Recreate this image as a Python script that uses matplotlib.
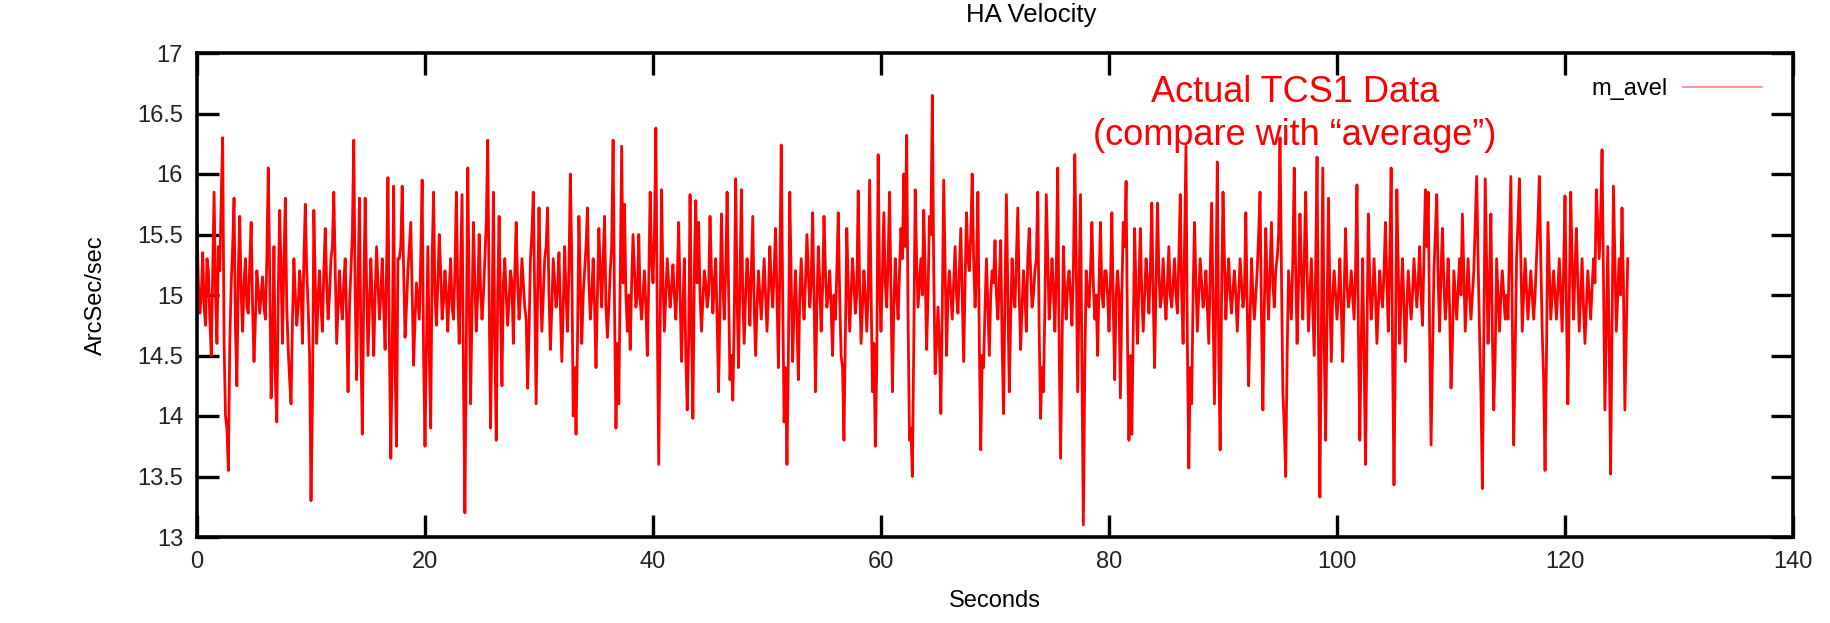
import matplotlib
matplotlib.use("Agg")
import matplotlib.pyplot as plt
import numpy as np

plt.rcParams['font.family'] = ['Liberation Sans', 'DejaVu Sans']

# HA velocity, main samples every 0.25 s
m_avel = [
    15.6, 14.85, 15.35, 14.75,  15.2, 14.5, 15.85, 14.6,
    15.2, 16.3, 14.0, 13.55,    15.1, 15.8, 14.25, 15.65,
    14.7, 15.3, 14.85, 15.6,    14.45, 15.2, 14.85, 15.15,
    14.8, 16.05, 14.15, 15.4,   13.95, 15.7, 14.6, 15.8,
    14.55, 14.1, 15.3, 14.75,   15.2, 14.6, 15.75, 14.9,
    13.3, 15.7, 14.6, 15.2,     14.7, 15.55, 14.8, 15.3,
    15.85, 14.6, 15.2, 14.8,    15.3, 14.2, 15.2, 16.28,
    14.3, 15.8, 13.85, 15.8,    14.5, 15.3, 14.5, 15.4,
    14.8, 15.3, 14.55, 15.97,   13.65, 15.9, 13.75, 15.3,
    15.9, 14.65, 15.2, 15.6,    14.42, 15.1, 14.8, 15.95,
    13.75, 15.4, 13.9, 15.85,   14.75, 15.5, 14.8, 15.2,
    14.7, 15.3, 14.8, 15.85,    14.6, 15.83, 13.2, 16.05,
    14.1, 15.6, 14.7, 15.5,     14.8, 15.3, 16.28, 13.9,
    15.85, 13.8, 15.65, 14.25,  15.3, 14.75, 15.2, 14.6,
    15.6, 14.8, 15.3, 14.9,     14.23, 15.3, 15.85, 14.1,
    15.72, 14.7, 15.3, 15.72,   14.55, 15.3, 14.9, 15.35,
    14.45, 15.4, 14.7, 16.0,    14.0, 13.85, 15.65, 14.6,
    15.2, 15.72, 14.8, 15.3,    14.4, 15.55, 14.9, 15.65,
    14.65, 15.2, 16.28, 13.9,   14.1, 16.23, 15.75, 14.7,
    14.55, 15.5, 14.9, 15.5,    14.8, 15.2, 14.5, 15.85,
    15.1, 16.38, 13.6, 15.87,   14.7, 15.3, 14.9, 15.25,
    14.8, 15.6, 14.45, 15.3,    14.05, 15.83, 13.98, 15.78,
    15.6, 14.7, 15.2, 14.9,     15.65, 14.85, 15.3, 14.2,
    15.67, 14.8, 15.85, 14.3,   14.13, 15.96, 14.4, 15.87,
    14.6, 15.3, 14.75, 15.65,   14.5, 15.2, 14.8, 15.3,
    14.7, 15.4, 14.9, 15.55,    14.4, 16.24, 13.95, 13.6,
    15.85, 14.45, 15.2, 14.3,   15.3, 14.8, 15.5, 14.9,
    15.68, 14.2, 15.4, 14.7,    15.65, 14.9, 15.2, 14.5,
    14.8, 15.68, 14.5, 13.8,    15.55, 14.7, 15.3, 14.85,
    15.86, 14.6, 15.2, 14.7,    15.95, 14.2, 13.75, 16.16,
    14.7, 15.68, 14.9, 15.85,   14.2, 15.3, 14.8, 15.55,
    16.0, 16.32, 13.8, 13.5,    15.87, 14.9, 15.3, 15.7,
    14.55, 15.65, 16.65, 14.35, 14.9, 14.02, 15.95, 14.5,
    15.2, 14.8, 15.4, 14.85,    15.55, 14.45, 15.68, 15.2,
    16.0, 14.9, 15.85, 13.72,   14.4, 15.3, 14.5, 15.2,
    15.45, 14.8, 15.45, 14.02,  15.83, 14.2, 15.3, 14.9,
    15.72, 14.55, 15.2, 14.7,   15.55, 14.9, 15.2, 15.85,
    13.98, 14.2, 15.83, 14.8,   15.3, 14.7, 16.05, 13.65,
    15.4, 14.8, 15.2, 14.75,    16.16, 14.2, 15.83, 13.1,
    15.2, 14.9, 15.6, 14.8,     14.5, 15.6, 14.9, 15.2,
    14.7, 15.68, 14.3, 15.2,    14.15, 15.6, 15.94, 13.8,
    13.85, 15.55, 14.6, 15.55,  14.7, 15.3, 14.85, 15.76,
    14.4, 15.76, 14.9, 15.3,    14.8, 15.4, 14.9, 15.3,
    14.85, 15.83, 14.6, 16.23,  13.57, 14.1, 15.6, 14.7,
    15.3, 14.9, 15.2, 14.6,     15.76, 14.1, 16.1, 13.72,
    15.85, 14.8, 15.3, 14.85,   15.2, 14.7, 15.3, 14.9,
    15.68, 14.25, 15.3, 14.8,   15.2, 15.85, 14.05, 15.55,
    14.8, 15.6, 14.9, 15.3,     16.3, 14.2, 13.5, 15.2,
    14.8, 16.05, 14.6, 15.67,   14.8, 15.85, 14.7, 15.3,
    14.5, 16.14, 13.33, 16.05,  13.8, 15.8, 14.45, 15.2,
    14.8, 15.3, 14.45, 15.55,   14.9, 15.2, 14.8, 15.91,
    13.8, 15.3, 13.6, 15.67,    14.8, 15.3, 14.6, 15.2,
    14.9, 15.6, 14.7, 16.05,    13.43, 15.87, 14.6, 15.3,
    14.45, 15.2, 14.8, 15.3,    14.9, 15.4, 14.75, 15.87,
    15.85, 13.76, 15.2, 15.83,  14.7, 15.55, 14.8, 15.3,
    14.23, 15.2, 14.8, 15.3,    15.67, 14.7, 15.3, 14.8,
    15.2, 15.98, 14.7, 13.4,    15.96, 14.6, 15.67, 14.05,
    15.3, 14.7, 15.2, 14.8,     14.8, 15.98, 13.76, 15.3,
    15.96, 14.7, 15.3, 14.8,    15.2, 14.8, 15.3, 15.98,
    14.7, 13.55, 15.6, 14.8,    15.2, 14.8, 15.3, 14.7,
    15.82, 14.1, 15.85, 14.8,   15.55, 14.7, 15.3, 14.6,
    15.2, 14.8, 15.3, 15.87,    15.3, 16.2, 14.05, 15.4,
    13.52, 15.9, 14.7, 15.3,    15.72, 14.05, 15.3,
]

# in-between samples (0.125 s after each main sample)
m_avel_mid = [
    15.1, 15.0, 14.9, 15.3, 14.8, 15.2, 15.0, 15.4,
    15.8, 14.6, 13.9, 14.6, 15.4, 14.7, 15.2, 15.0,
    15.1, 14.9, 15.25, 14.9, 14.8, 15.05, 15.0, 14.9,
    15.3, 15.2, 14.5, 14.3, 15.0, 15.2, 15.3, 14.9,
    14.3, 14.8, 15.0, 14.9, 15.05, 15.3, 15.2, 14.5,
    14.1, 15.1, 15.0, 14.9, 15.2, 15.1, 15.0, 15.4,
    15.2, 14.9, 14.95, 15.1, 14.8, 14.9, 15.5, 15.0,
    15.1, 14.6, 15.0, 15.1, 14.9, 14.95, 15.0, 15.1,
    15.0, 14.9, 15.2, 14.6, 14.5, 14.4, 15.3, 15.4,
    15.2, 14.9, 15.4, 15.0, 14.8, 14.95, 15.3, 14.5,
    14.6, 14.5, 15.3, 15.0, 15.1, 15.2, 14.95, 15.0,
    15.05, 14.9, 15.2, 15.0, 15.2, 14.3, 14.6, 15.0,
    14.9, 15.1, 15.0, 15.05, 15.0, 15.6, 15.0, 14.7,
    14.6, 15.0, 14.9, 15.1, 15.0, 14.95, 15.1, 15.2,
    15.1, 15.0, 15.1, 14.8, 14.7, 15.5, 15.0, 15.0,
    15.1, 15.0, 15.4, 15.0, 14.9, 15.1, 15.05, 14.9,
    14.9, 15.0, 15.2, 15.3, 14.4, 14.6, 15.1, 15.0,
    15.4, 15.1, 15.0, 14.9, 15.0, 15.2, 15.3, 14.9,
    14.9, 15.4, 14.9, 14.6, 15.2, 15.1, 15.0, 15.0,
    15.1, 15.2, 15.0, 14.95, 15.0, 14.9, 15.1, 15.3,
    15.5, 14.8, 14.7, 15.1, 15.0, 15.1, 15.05, 15.0,
    15.1, 15.0, 14.9, 14.5, 14.6, 14.7, 15.2, 15.1,
    15.0, 14.95, 15.1, 15.0, 15.2, 15.1, 14.8, 14.9,
    15.1, 15.2, 15.1, 14.5, 14.8, 15.0, 15.1, 15.0,
    15.0, 15.1, 15.2, 14.9, 14.9, 15.0, 15.05, 15.0,
    15.0, 15.1, 15.2, 15.0, 15.2, 15.0, 14.4, 14.5,
    15.1, 14.9, 14.8, 15.0, 15.0, 15.1, 15.2, 15.1,
    15.0, 14.9, 15.1, 15.05, 15.2, 15.0, 14.9, 15.0,
    15.2, 15.0, 14.4, 14.7, 15.1, 15.0, 15.1, 15.0,
    15.1, 14.9, 15.0, 15.0, 15.1, 14.6, 14.4, 15.1,
    15.2, 15.1, 15.3, 15.0, 14.9, 15.0, 15.2, 15.3,
    15.4, 14.8, 13.9, 14.6, 15.3, 15.1, 15.0, 15.2,
    15.0, 15.5, 15.2, 14.6, 14.6, 14.9, 15.2, 15.0,
    15.0, 15.1, 15.0, 15.2, 15.0, 15.1, 15.3, 15.5,
    15.3, 15.2, 14.6, 14.5, 14.9, 14.9, 15.0, 15.1,
    15.0, 15.1, 14.6, 15.0, 15.0, 14.8, 15.0, 15.3,
    15.0, 14.9, 15.0, 15.3, 15.2, 15.0, 15.3, 14.7,
    14.4, 14.9, 15.3, 15.0, 15.05, 15.2, 14.6, 14.5,
    15.0, 15.1, 15.0, 15.2, 15.3, 15.0, 14.4, 14.4,
    15.0, 15.2, 15.1, 15.0, 15.1, 15.0, 15.2, 15.0,
    15.1, 14.9, 15.0, 15.0, 15.0, 15.4, 14.6, 14.5,
    14.7, 15.0, 15.1, 15.0, 15.0, 15.1, 15.2, 15.0,
    15.1, 15.2, 15.0, 15.0, 15.1, 15.0, 15.1, 15.0,
    15.3, 15.0, 15.4, 14.6, 14.4, 15.0, 15.1, 15.0,
    15.1, 15.0, 14.9, 15.2, 14.9, 15.0, 14.5, 15.0,
    15.3, 15.1, 15.0, 15.05, 15.0, 15.0, 15.1, 15.0,
    14.9, 14.8, 15.0, 15.0, 15.5, 14.8, 14.9, 15.1,
    15.2, 15.1, 15.2, 15.5, 15.2, 13.9, 14.5, 15.0,
    15.3, 15.2, 15.1, 15.2, 15.3, 15.2, 15.0, 14.9,
    15.2, 14.6, 14.7, 14.6, 14.8, 15.0, 15.0, 15.0,
    15.0, 14.9, 15.0, 15.1, 15.0, 15.0, 15.2, 14.7,
    14.6, 14.5, 14.6, 15.1, 15.0, 15.0, 14.9, 15.0,
    15.2, 15.1, 15.3, 14.5, 14.6, 15.2, 15.0, 14.9,
    14.9, 15.0, 15.0, 15.1, 15.1, 15.0, 15.3, 15.4,
    14.7, 14.5, 15.5, 15.1, 15.2, 15.1, 15.0, 14.9,
    14.6, 15.0, 15.05, 15.0, 15.2, 15.0, 15.0, 15.0,
    15.6, 15.3, 14.2, 14.6, 15.3, 15.1, 14.7, 14.5,
    15.0, 15.0, 15.0, 15.0, 15.4, 14.8, 14.5, 15.6,
    15.3, 15.0, 15.05, 15.0, 15.0, 15.0, 15.6, 15.3,
    14.3, 14.5, 15.2, 15.0, 15.0, 15.05, 15.0, 15.2,
    14.9, 15.0, 15.3, 15.2, 15.1, 15.0, 14.9, 14.9,
    15.0, 15.05, 15.1, 15.6, 15.6, 15.1, 14.7, 14.6,
    14.7, 15.3, 15.0, 15.0, 15.1, 14.7,
]

velocity = np.empty(len(m_avel) + len(m_avel_mid))
velocity[0::2] = m_avel
velocity[1::2] = m_avel_mid
seconds = np.arange(len(velocity)) * 0.125

xticks = [0, 20, 40, 60, 80, 100, 120, 140]
yticks = [13, 13.5, 14, 14.5, 15, 15.5, 16, 16.5, 17]

fig = plt.figure(figsize=(18.3, 6.23), dpi=100)
ax = fig.add_axes([197 / 1830, 86 / 623, 1596 / 1830, 484 / 623])

ax.plot(seconds, velocity, color='#ff0000', lw=2.0, label='m_avel')

ax.set_xlim(0, 140)
ax.set_ylim(13, 17)
ax.set_xticks(xticks)
ax.set_yticks(yticks)
ax.set_yticklabels(['13', '13.5', '14', '14.5', '15', '15.5', '16', '16.5', '17'])
ax.tick_params(direction='in', length=16, width=2.4, top=True, right=True,
               labelsize=17, labelcolor='#222222', pad=10)
for s in ax.spines.values():
    s.set_linewidth(2.6)

ax.set_xlabel('Seconds', fontsize=17, labelpad=12)
ax.set_ylabel('ArcSec/sec', fontsize=17, labelpad=22)
fig.text(1031 / 1830, 1 - 15 / 623, 'HA Velocity', fontsize=18.5, ha='center', va='center')

leg = ax.legend(loc='center right', bbox_to_anchor=(1762 / 1830, 1 - 89 / 623),
                bbox_transform=fig.transFigure, frameon=False, markerfirst=False,
                fontsize=17, handlelength=3.35, handletextpad=0.64,
                borderpad=0, borderaxespad=0)
leg.get_lines()[0].set_color('#ff8080')
leg.get_lines()[0].set_linewidth(1.2)

fig.text(1295 / 1830, 1 - 102 / 623, 'Actual TCS1 Data', color='red',
         fontsize=26, ha='center', va='baseline')
fig.text(1295 / 1830, 1 - 145 / 623, '(compare with \u201caverage\u201d)', color='red',
         fontsize=26, ha='center', va='baseline')

fig.savefig('out.png', dpi=100)
